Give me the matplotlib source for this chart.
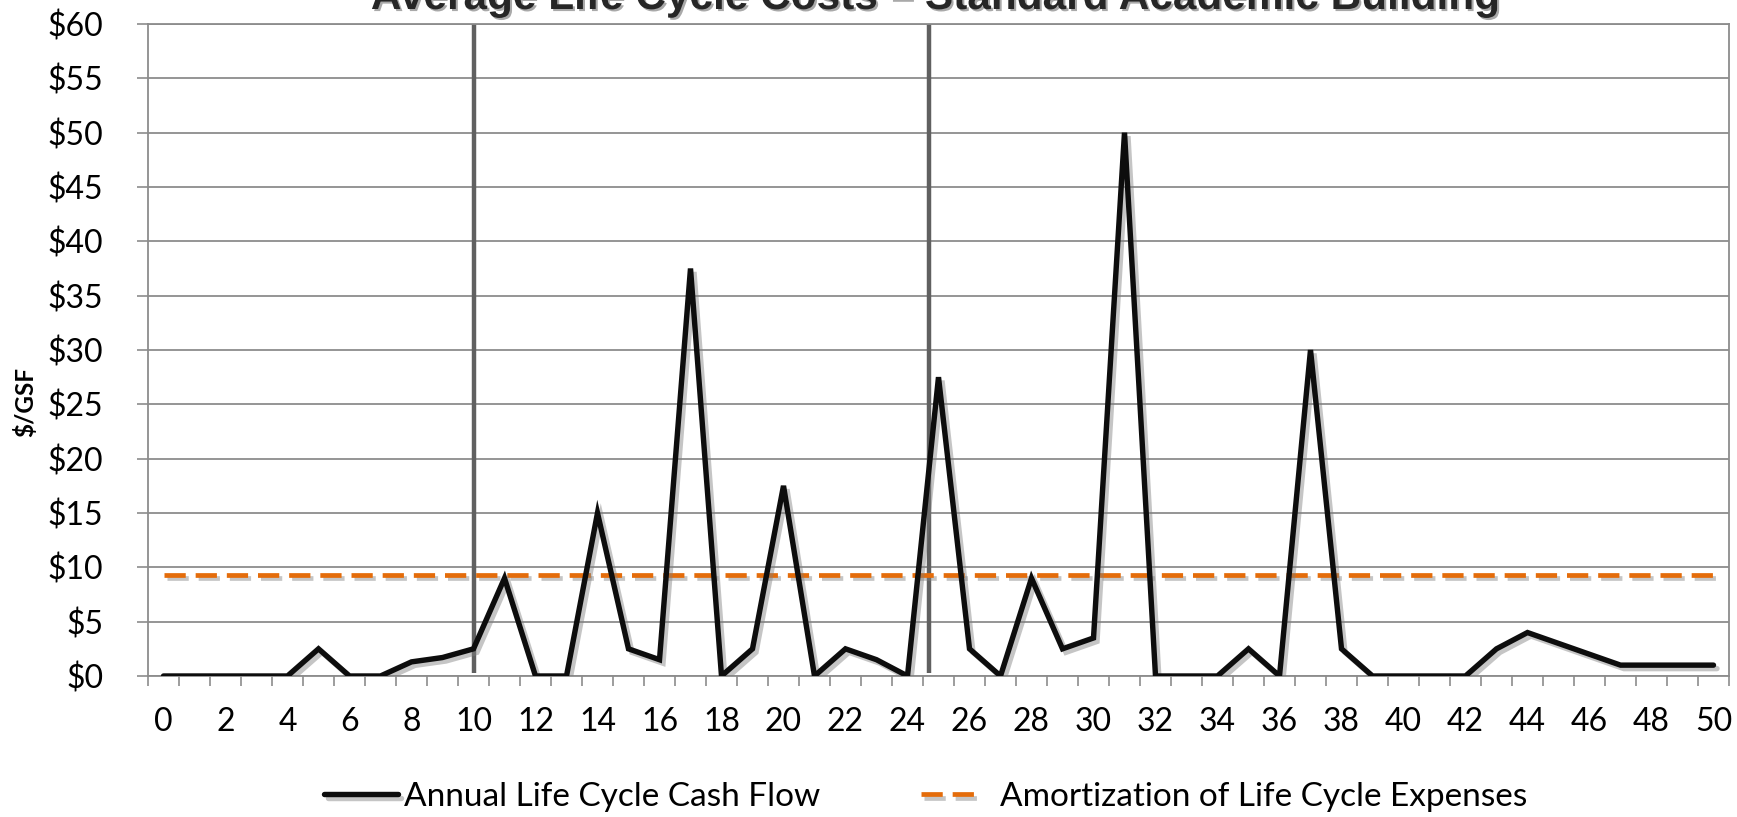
import matplotlib
matplotlib.use("Agg")
import matplotlib.pyplot as plt
import matplotlib.patheffects as pe
from matplotlib.lines import Line2D
import numpy as np

# chart data
years = list(range(0, 51))
cash_flow = [0, 0, 0, 0, 0, 2.5, 0, 0, 1.3, 1.7,
             2.5, 9, 0, 0, 15, 2.5, 1.5, 37.5, 0, 2.5,
             17.5, 0, 2.5, 1.5, 0, 27.5, 2.5, 0, 9, 2.5,
             3.5, 50, 0, 0, 0, 2.5, 0, 30, 2.5, 0,
             0, 0, 0, 2.5, 4, 3, 2, 1, 1, 1,
             1]
amortization = 9.3
phase_marks = [10, 24.7]
y_ticks = list(range(0, 61, 5))
x_labels = list(range(0, 51, 2))

title = "Average Life Cycle Costs \u2013 Standard Academic Building"
label_cash = "Annual Life Cycle Cash Flow"
label_amort = "Amortization of Life Cycle Expenses"

plt.rcParams['font.family'] = ['Lato', 'DejaVu Sans']
grid_col = '#8c8c8c'
orange = '#e46c0a'
fs = 23

fig = plt.figure(figsize=(17.37, 8.17), dpi=100)
ax = fig.add_axes([148/1737, 1 - 676/817, (1729-148)/1737, (676-24)/817])

shadow = [pe.SimpleLineShadow(offset=(2.5, -2.5), shadow_color='#7f7f7f', alpha=0.45), pe.Normal()]

# gridlines
for v in y_ticks:
    ax.axhline(v, color=grid_col, lw=1.3, zorder=1)

# phase separators
ax.vlines(phase_marks, 0.25, 60, color='#606060', lw=3.2, zorder=2)

line_cash, = ax.plot(years, cash_flow, color='#0d0d0d', lw=3.9, solid_joinstyle='miter',
                     solid_capstyle='round', zorder=4, path_effects=shadow, label=label_cash)
ax.plot([years[0], years[-1]], [amortization, amortization], color=orange, lw=3.4,
        dashes=(4.5, 2.1), zorder=3, path_effects=shadow)

# legend handle: two dashes then a gap, like the original
amort_handle = Line2D([], [], color=orange, lw=3.4, dashes=(4.5, 2.1, 4.5, 12),
                      path_effects=shadow)

ax.set_xlim(-0.5, 50.5)
ax.set_ylim(0, 60)

ax.set_yticks(y_ticks)
ax.set_yticklabels(['$%d' % v for v in y_ticks])
ax.tick_params(axis='y', direction='out', length=8, width=1.2, color=grid_col, pad=24, labelsize=fs)

ax.set_xticks(x_labels)
ax.set_xticklabels([str(v) for v in x_labels])
ax.set_xticks(np.arange(-0.5, 51, 1), minor=True)
ax.tick_params(axis='x', which='major', length=0, pad=22, labelsize=fs)
ax.tick_params(axis='x', which='minor', direction='out', length=7.5, width=1.2, color=grid_col)

for s in ax.spines.values():
    s.set_color(grid_col)
    s.set_linewidth(1.3)

fig.text(25/1737, 1 - 402/817, "$/GSF", rotation=90, fontsize=17.5, fontweight='bold',
         ha='center', va='center')

fig.text(936/1737, 1 - 9/817, title, fontsize=30.5, fontweight='bold', color='#262626',
         family=['Liberation Sans', 'DejaVu Sans'], ha='center', va='baseline',
         path_effects=[pe.withSimplePatchShadow(offset=(1.5, -1.5), alpha=0.35)])

fig.legend(handles=[line_cash, amort_handle], labels=[label_cash, label_amort], loc='center',
           bbox_to_anchor=(926/1737, 1 - 797/817), ncol=2, frameon=False, fontsize=24,
           handlelength=2.2, handletextpad=0.2, columnspacing=3.0)

fig.savefig('out.png', dpi=100)
